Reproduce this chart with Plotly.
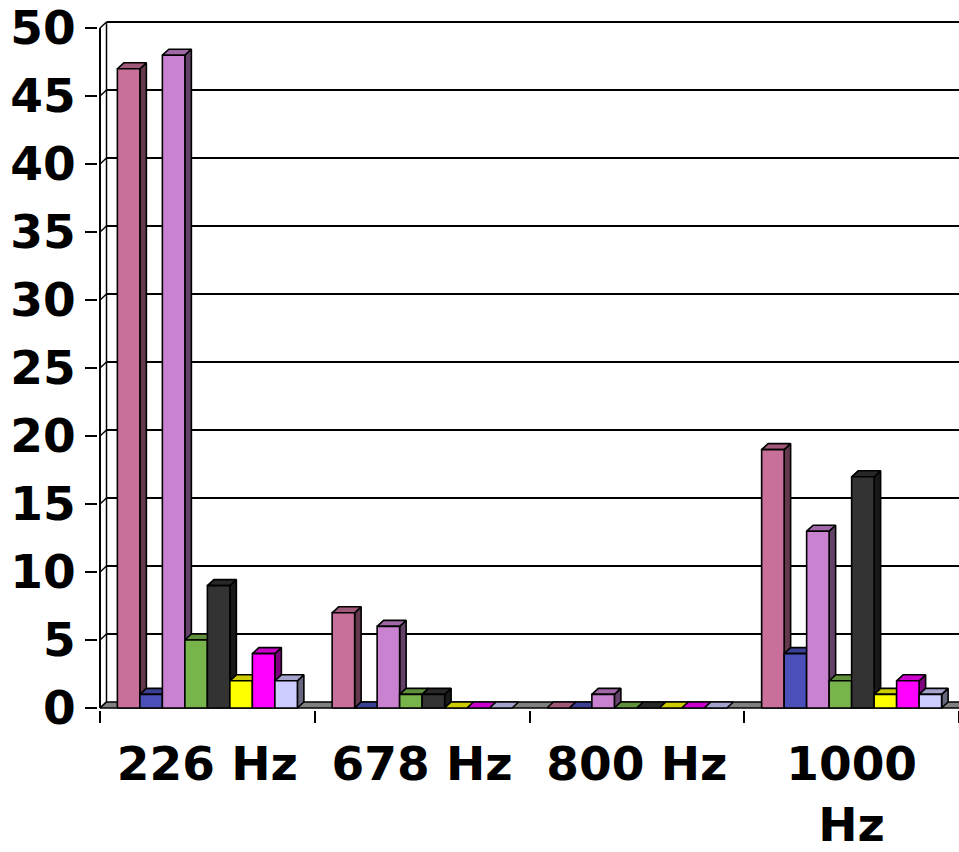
import plotly.graph_objects as go

# ---- data ----
categories = ["226 Hz", "678 Hz", "800 Hz", "1000 Hz"]
tick_labels = ["226 Hz", "678 Hz", "800 Hz", "1000<br>Hz"]
series_1 = [47, 7, 0, 19]
series_2 = [1, 0, 0, 4]
series_3 = [48, 6, 1, 13]
series_4 = [5, 1, 0, 2]
series_5 = [9, 1, 0, 17]
series_6 = [2, 0, 0, 1]
series_7 = [4, 0, 0, 2]
series_8 = [2, 0, 0, 1]
y_ticks = [0, 5, 10, 15, 20, 25, 30, 35, 40, 45, 50]

series = [series_1, series_2, series_3, series_4,
          series_5, series_6, series_7, series_8]
colors = ["#C8709A", "#4B50B8", "#C882D0", "#78B44C",
          "#333333", "#FFFF00", "#FF00FF", "#CCCCFF"]

# ---- geometry of the pseudo-3D look ----
PX_X = 214.75          # pixels per category
PX_Y = 13.64           # pixels per y unit
DX = 6.5 / PX_X        # depth offset in x (data units)
DY = 6.0 / PX_Y        # depth offset in y (data units)
BAR_W = 22.5 / PX_X    # bar width in category units
n_series = len(series)


def shade(hex_color, f):
    h = hex_color.lstrip("#")
    r, g, b = (int(h[i:i + 2], 16) for i in (0, 2, 4))
    return "#%02X%02X%02X" % (int(r * f), int(g * f), int(b * f))


def poly(xs, ys, fill):
    return go.Scatter(
        x=xs + [xs[0]], y=ys + [ys[0]], mode="lines", fill="toself",
        fillcolor=fill, line=dict(color="black", width=1.6),
        hoverinfo="skip", showlegend=False,
    )


fig = go.Figure()

x_max = len(categories)

# floor strip
fig.add_trace(poly([0, x_max, x_max + DX, DX], [0, 0, DY, DY], "#808080"))

# columns: side, top and front face for each bar, drawn left to right
for c in range(len(categories)):
    start = c + 0.5 - n_series * BAR_W / 2
    for s in range(n_series):
        v = series[s][c]
        x0 = start + s * BAR_W
        x1 = x0 + BAR_W
        col = colors[s]
        if v > 0:
            fig.add_trace(poly([x1, x1 + DX, x1 + DX, x1],
                               [0, DY, v + DY, v], shade(col, 0.5)))
        fig.add_trace(poly([x0, x0 + DX, x1 + DX, x1],
                           [v, v + DY, v + DY, v], shade(col, 0.8)))
        if v > 0:
            fig.add_trace(poly([x0, x1, x1, x0], [0, 0, v, v], col))

# back-wall gridlines and left wall edges
shapes = []
for t in y_ticks:
    if t > 0:
        shapes.append(dict(type="line", xref="x", yref="y", x0=DX, x1=x_max + DX,
                           y0=t + DY, y1=t + DY, line=dict(color="black", width=2),
                           layer="below"))
    shapes.append(dict(type="line", xref="x", yref="y", x0=0, x1=DX,
                       y0=t, y1=t + DY, line=dict(color="black", width=1.5),
                       layer="below"))
shapes.append(dict(type="line", xref="x", yref="y", x0=DX, x1=DX,
                   y0=DY, y1=y_ticks[-1] + DY,
                   line=dict(color="black", width=1.5), layer="below"))
shapes.append(dict(type="line", xref="x", yref="y", x0=0, x1=0,
                   y0=0, y1=y_ticks[-1], line=dict(color="black", width=2),
                   layer="above"))

W, H = 959, 852
m_l, m_t = 98, 19
bottom_px = 710
y_lo = -(bottom_px - 708) / PX_Y
y_hi = y_ticks[-1] + DY + 1 / PX_Y
x_lo = -2 / PX_X

label_font = dict(family="DejaVu Sans", size=47, color="black", weight="bold")

fig.update_layout(
    width=W, height=H,
    margin=dict(l=m_l, r=0, t=m_t, b=H - bottom_px, pad=0),
    paper_bgcolor="white", plot_bgcolor="white",
    shapes=shapes,
    xaxis=dict(
        range=[x_lo, x_max], showgrid=False, zeroline=False, showline=False,
        tickmode="array", tickvals=[i + 0.5 for i in range(len(categories))],
        ticktext=tick_labels, ticks="", tickfont=label_font,
        ticklabelstandoff=22, ticklabeloverflow="allow",
        minor=dict(tickmode="array", tickvals=list(range(len(categories) + 1)),
                   ticks="outside", ticklen=12, tickwidth=2, tickcolor="black",
                   showgrid=False),
    ),
    yaxis=dict(
        range=[y_lo, y_hi], showgrid=False, zeroline=False, showline=False,
        tickmode="array", tickvals=y_ticks, ticks="outside", ticklen=12,
        tickwidth=2, tickcolor="black", tickfont=label_font,
        ticklabelstandoff=0, ticklabeloverflow="allow",
    ),
)

fig.write_html("out.html")
